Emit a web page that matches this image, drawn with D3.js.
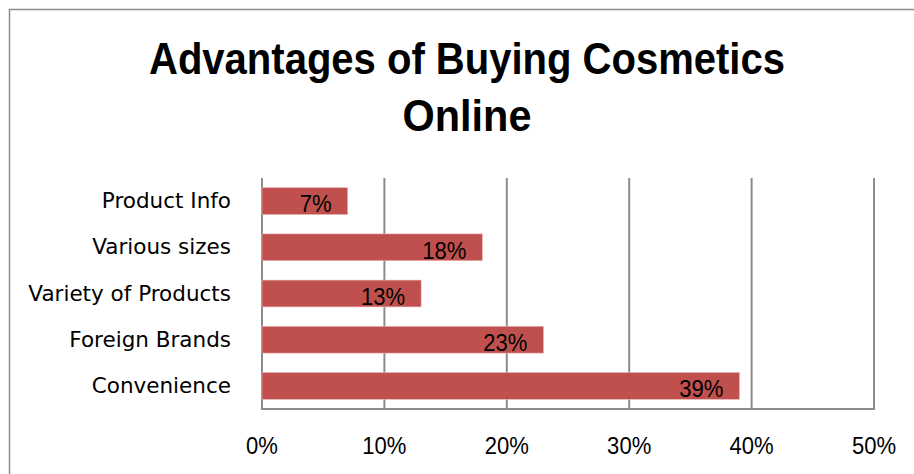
<!DOCTYPE html>
<html>
<head>
<meta charset="utf-8">
<script src="https://cdn.jsdelivr.net/npm/d3@7"></script>
<style>
  html, body { margin: 0; padding: 0; background: #fff; }
  svg { display: block; }
</style>
</head>
<body>
<svg id="chart" width="914" height="474"></svg>
<script>
// Survey shares, top to bottom
const categories = ["Product Info", "Various sizes", "Variety of Products", "Foreign Brands", "Convenience"];
const values = [0.07, 0.18, 0.13, 0.23, 0.39];
const tickValues = [0, 0.1, 0.2, 0.3, 0.4, 0.5];
const titleLines = ["Advantages of Buying Cosmetics", "Online"];
const titleWidths = [636, 129];

const svg = d3.select("#chart");
const W = 914, H = 474;
const plot = { left: 262, right: 874, top: 178, bottom: 409 };
const narrow = "'Liberation Sans Narrow', 'Arial Narrow', 'Liberation Sans', Arial, sans-serif";

// Chart frame
svg.append("rect")
  .attr("x", 9.5).attr("y", 9.5)
  .attr("width", W + 20).attr("height", H + 20)
  .attr("fill", "#fff").attr("stroke", "#8c8c8c").attr("stroke-width", 1.5);

const x = d3.scaleLinear().domain([0, 0.5]).range([plot.left, plot.right]);
const y = d3.scaleBand().domain(categories).range([plot.top, plot.bottom]).paddingInner(0.42).paddingOuter(0.21);

// Title, two centred condensed lines
svg.append("g").selectAll("text").data(titleLines).join("text")
  .attr("x", 467)
  .attr("y", (d, i) => 74 + i * 57)
  .attr("text-anchor", "middle")
  .attr("font-family", narrow)
  .attr("font-weight", "bold")
  .attr("font-size", 45)
  .attr("fill", "#000")
  .attr("textLength", (d, i) => titleWidths[i])
  .attr("lengthAdjust", "spacingAndGlyphs")
  .text(d => d);

// Vertical gridlines
svg.append("g").selectAll("line").data(tickValues).join("line")
  .attr("x1", d => x(d)).attr("x2", d => x(d))
  .attr("y1", plot.top).attr("y2", plot.bottom)
  .attr("stroke", "#8c8c8c").attr("stroke-width", 2);

// Bottom axis line
svg.append("line")
  .attr("x1", plot.left - 1).attr("x2", plot.right + 1)
  .attr("y1", plot.bottom).attr("y2", plot.bottom)
  .attr("stroke", "#8c8c8c").attr("stroke-width", 2);

// Bars
svg.append("g").selectAll("rect").data(values).join("rect")
  .attr("x", x(0))
  .attr("y", (d, i) => y(categories[i]))
  .attr("width", d => x(d) - x(0))
  .attr("height", y.bandwidth())
  .attr("fill", "#C0504D")
  .attr("stroke", "#e8b4b3").attr("stroke-width", 0.6);

// Value labels at the inside end of each bar
const fmt = d3.format(".0%");
svg.append("g").selectAll("text").data(values).join("text")
  .attr("x", d => x(d) - 16)
  .attr("y", (d, i) => y(categories[i]) + y.bandwidth() - 2)
  .attr("text-anchor", "end")
  .attr("font-family", narrow)
  .attr("font-size", 24)
  .attr("fill", "#000")
  .attr("transform", d => `translate(${x(d) - 16},0) scale(0.92,1) translate(${-(x(d) - 16)},0)`)
  .text(d => fmt(d));

// Category labels
svg.append("g").selectAll("text").data(categories).join("text")
  .attr("x", 231)
  .attr("y", d => y(d) + y.bandwidth() / 2 + 7)
  .attr("text-anchor", "end")
  .attr("font-family", "'DejaVu Sans', sans-serif")
  .attr("font-size", 21.5)
  .attr("fill", "#000")
  .text(d => d);

// Tick labels
svg.append("g").selectAll("text").data(tickValues).join("text")
  .attr("x", d => x(d))
  .attr("y", 454)
  .attr("text-anchor", "middle")
  .attr("font-family", narrow)
  .attr("font-size", 24)
  .attr("fill", "#000")
  .attr("transform", d => `translate(${x(d)},0) scale(0.92,1) translate(${-x(d)},0)`)
  .text(d => fmt(d));
</script>
</body>
</html>
